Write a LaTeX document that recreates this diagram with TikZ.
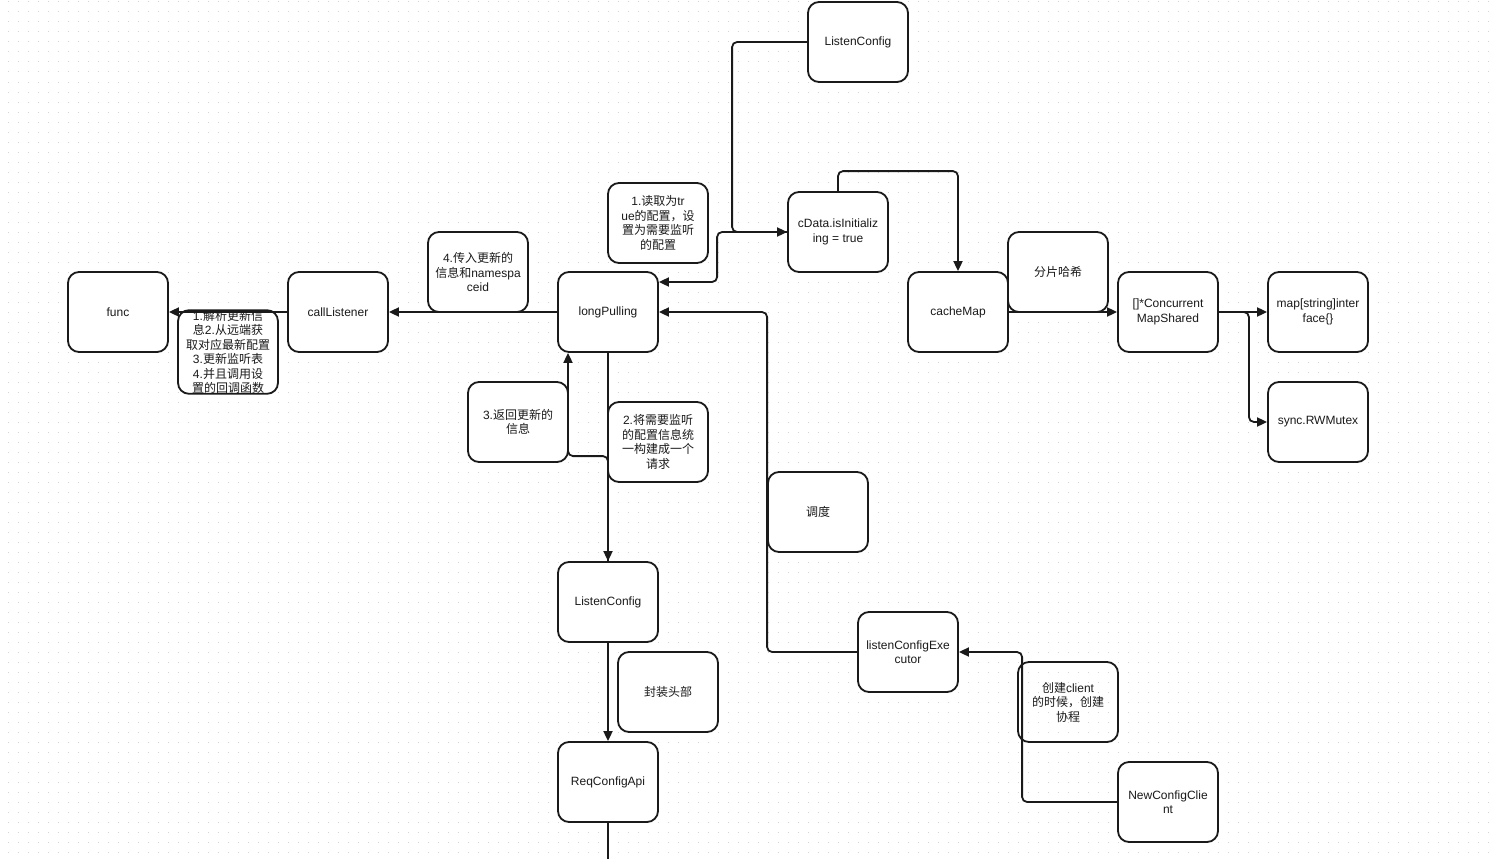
\documentclass[tikz,border=0pt]{standalone}
\usepackage{fontspec}
\setmainfont{Liberation Sans}
\newfontfamily\cjk{Noto Sans CJK SC}
\newcommand{\zhs}[1]{{\cjk #1}}
\usetikzlibrary{arrows.meta,calc}
\definecolor{ink}{HTML}{1A1A1A}
\definecolor{gridc}{HTML}{D4D4D4}
\tikzset{
  box/.style={draw=ink, fill=white, line width=1.8pt, rounded corners=11pt,
    minimum width=100pt, minimum height=80pt, inner sep=0pt, align=center,
    font=\fontsize{12}{14.5}\selectfont, text=ink},
  clearbox/.style={box, fill=none},
  edge/.style={draw=ink, line width=1.8pt, rounded corners=5pt},
  arr/.style={edge, -{Triangle[length=10pt,width=9pt]}}
}
\begin{document}
\begin{tikzpicture}[x=1pt,y=-1pt]
\useasboundingbox (0,0) rectangle (1496,859);
\fill[white] (0,0) rectangle (1496,859);
\foreach \yy in {2,12,...,852}
  \draw[gridc, line width=1pt, dash pattern=on 1pt off 9pt] (7.5,\yy) -- (1496,\yy);

% nodes
\node[box] (func) at (118,312) {func};
\node[box] (cl) at (338,312) {callListener};
\node[box] (note1) at (228,352) {1.\zhs{解析更新信}\\\zhs{息}2.\zhs{从远端获}\\\zhs{取对应最新配置}\\3.\zhs{更新监听表}\\4.\zhs{并且调用设}\\\zhs{置的回调函数}};
\node[box] (note4) at (478,272) {4.\zhs{传入更新的}\\\zhs{信息和}namespa\\ceid};
\node[box] (lp) at (608,312) {longPulling};
\node[box] (note1r) at (658,223) {1.\zhs{读取为}tr\\ue\zhs{的配置，设}\\\zhs{置为需要监听}\\\zhs{的配置}};
\node[box] (lctop) at (858,42) {ListenConfig};
\node[box] (cdata) at (838,232) {cData.isInitializ\\ing = true};
\node[box] (cache) at (958,312) {cacheMap};
\node[box] (shard) at (1058,272) {\zhs{分片哈希}};
\node[box] (conc) at (1168,312) {[]*Concurrent\\MapShared};
\node[box] (mapn) at (1318,312) {map[string]inter\\face\{\}};
\node[box] (sync) at (1318,422) {sync.RWMutex};
\node[box] (note3) at (518,422) {3.\zhs{返回更新的}\\\zhs{信息}};
\node[box] (note2) at (658,442) {2.\zhs{将需要监听}\\\zhs{的配置信息统}\\\zhs{一构建成一个}\\\zhs{请求}};
\node[box] (sched) at (818,512) {\zhs{调度}};
\node[box] (lc2) at (608,602) {ListenConfig};
\node[box] (hdr) at (668,692) {\zhs{封装头部}};
\node[box] (req) at (608,782) {ReqConfigApi};
\node[box] (exec) at (908,652) {listenConfigExe\\cutor};
\node[clearbox] (notec) at (1068,702) {\zhs{创建}client\\\zhs{的时候，创建}\\\zhs{协程}};
\node[box] (ncc) at (1168,802) {NewConfigClie\\nt};
\coordinate (reqend) at (608,862);

% connectors
\draw[arr] (cl.west) -- (func.east);
\draw[arr] (lp.west) -- (cl.east);
\draw[arr] (lctop.west) -- ++(-75,0) |- (cdata.west);
\draw[arr] (cdata.west) -- ++(-70,0) |- ([yshift=30pt]lp.east);
\draw[arr] (cdata.north) -- ++(0,-20) -| (cache.north);
\draw[arr] (cache.east) -- (conc.west);
\draw[arr] (conc.east) -- (mapn.west);
\draw[arr] (conc.east) -- ++(30,0) |- (sync.west);
\draw[arr] (lp.south) -- (lc2.north);
\draw[arr] (lc2.north) -- ++(0,-105) -| ([xshift=-40pt]lp.south);
\draw[arr] (lc2.south) -- (req.north);
\draw[edge] (req.south) -- (reqend);
\draw[arr] (exec.west) -- ++(-90,0) |- (lp.east);
\draw[arr] (ncc.west) -- ++(-95,0) |- (exec.east);
\end{tikzpicture}
\end{document}
